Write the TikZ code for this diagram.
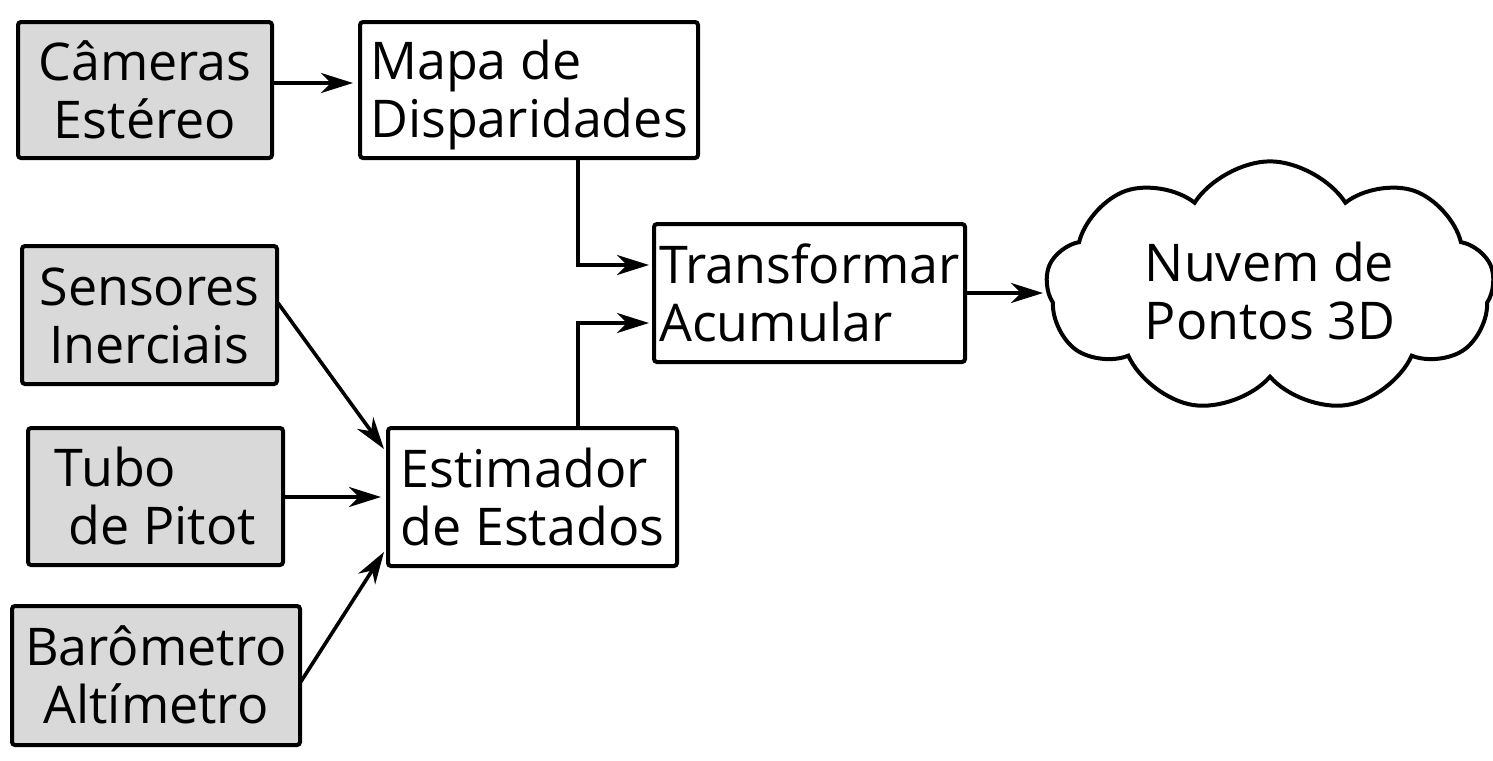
\documentclass[tikz,border=0pt]{standalone}
\usepackage{fontspec}
\setmainfont{Open Sans}
\usetikzlibrary{shapes.symbols,arrows.meta}
\newcommand\mytop{\rule{0pt}{25pt}}
\newcommand\mybot{\rule[-6pt]{0pt}{0pt}}
\begin{document}
\begin{tikzpicture}[x=0.5pt,y=-0.5pt,
  box/.style={draw,line width=2pt,rounded corners=1.5pt,align=left,inner sep=0pt,
    font=\fontsize{26}{29}\selectfont},
  gbox/.style={box,fill=gray!30,align=center},
  arr/.style={line width=1.8pt,-{Stealth[length=16pt,width=10pt,inset=5pt]},shorten >=2.5pt}]
\useasboundingbox (0,0) rectangle (1493,760);
\node[gbox,minimum width=127pt,minimum height=68pt] (cam) at (145,90) {\mytop Câmeras\\Estéreo\mybot};
\node[box,minimum width=169pt,minimum height=68pt] (mapa) at (529,90) {\mytop Mapa de\\Disparidades\mybot};
\node[gbox,minimum width=127.5pt,minimum height=69pt] (sens) at (149.5,315) {\mytop Sensores\\Inerciais\mybot};
\node[gbox,align=left,minimum width=127.5pt,minimum height=68.5pt] (tubo) at (155.5,496.5) {\mytop Tubo\\\hspace*{7pt}de Pitot\mybot};
\node[gbox,minimum width=144pt,minimum height=69.5pt] (baro) at (156,675.5) {\mytop Barômetro\\Altímetro\mybot};
\node[box,minimum width=144.5pt,minimum height=69pt] (est) at (532.5,497) {\mytop Estimador\\de Estados\mybot};
\node[box,minimum width=155.5pt,minimum height=69pt] (trans) at (809.5,293) {\mytop Transformar\\Acumular\mybot};
\node[cloud,draw,line width=2pt,cloud puffs=9,cloud puff arc=115,aspect=1.8,
  minimum width=224pt,minimum height=124pt,align=left,inner sep=0pt,
  font=\fontsize{26}{29}\selectfont] (cloud) at (1270,287) {\rule{0pt}{27pt}Nuvem de\\Pontos 3D\rule[-4pt]{0pt}{0pt}};
\coordinate (c1) at (272,83);
\coordinate (m1) at (578,158);
\coordinate (t1) at (654,265);
\coordinate (e1) at (578,428);
\coordinate (t2) at (654,323);
\draw[arr] (c1) -- (c1 -| mapa.west);
\draw[arr] (m1) |- (t1);
\draw[arr] (e1) |- (t2);
\coordinate (s1) at (278,303);
\coordinate (s2) at (384,449);
\draw[arr,shorten >=0pt] (s1) -- (s2);
\coordinate (p1) at (283,497);
\draw[arr] (p1) -- (p1 -| est.west);
\coordinate (b1) at (300,683);
\coordinate (b2) at (384,552);
\draw[arr,shorten >=0pt] (b1) -- (b2);
\coordinate (tr1) at (965,293);
\draw[arr] (tr1) -- (1048,293);
\end{tikzpicture}
\end{document}
